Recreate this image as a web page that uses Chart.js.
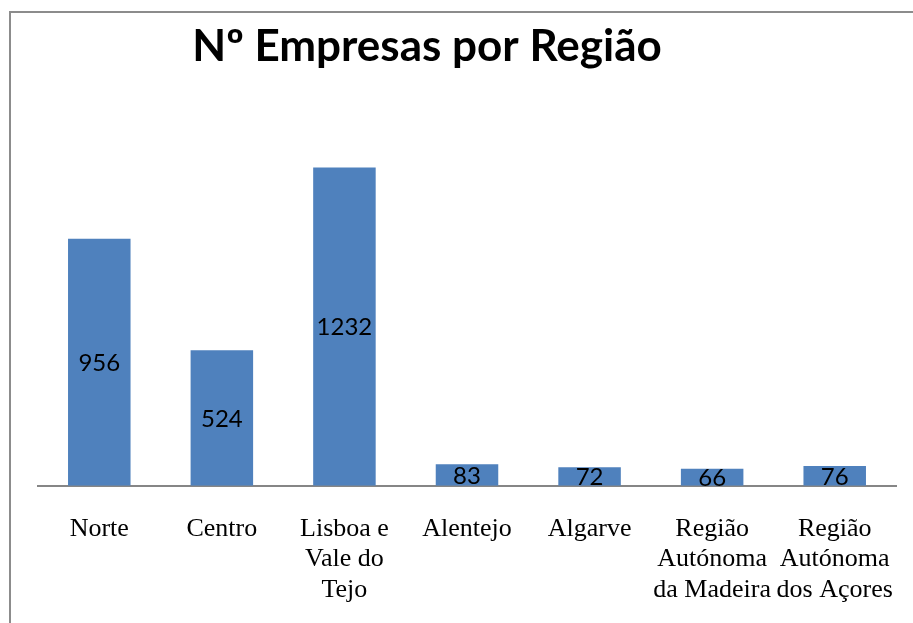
<!DOCTYPE html>
<html>
<head>
<meta charset="utf-8">
<script src="https://cdn.jsdelivr.net/npm/chart.js@4/dist/chart.umd.min.js"></script>
<style>
  html, body { margin: 0; padding: 0; background: #fff; }
  #wrap { position: relative; width: 913px; height: 623px; overflow: hidden; }
  #frame { position: absolute; left: 9px; top: 11px; width: 920px; height: 640px;
           border-left: 2px solid #8c8c8c; border-top: 2px solid #8c8c8c; }
  canvas { position: absolute; left: 0; top: 0; }
</style>
</head>
<body>
<div id="wrap">
  <div id="frame"></div>
  <canvas id="chart" width="913" height="643"></canvas>
</div>
<script>
var TITLE = 'Nº Empresas por Região';
var regioes = [
    'Norte',
    'Centro',
    ['Lisboa e', 'Vale do', 'Tejo'],
    'Alentejo',
    'Algarve',
    ['Região', 'Autónoma', 'da Madeira'],
    ['Região', 'Autónoma', 'dos Açores']
];
var empresas = [956, 524, 1232, 83, 72, 66, 76];

// titulo desenhado a mao, um pouco à esquerda do centro (como no original)
var titlePlugin = {
    id: 'titleText',
    afterDraw: function(chart) {
        var ctx = chart.ctx;
        ctx.save();
        ctx.font = 'bold 44px Lato';
        ctx.fillStyle = '#000';
        ctx.textAlign = 'center';
        ctx.textBaseline = 'alphabetic';
        ctx.fillText(TITLE, 427, 61);
        ctx.restore();
    }
};

// valores no meio de cada barra
var valueLabels = {
    id: 'valueLabels',
    afterDatasetsDraw: function(chart) {
        var ctx = chart.ctx;
        var meta = chart.getDatasetMeta(0);
        ctx.save();
        ctx.font = '24px Lato';
        ctx.fillStyle = '#000';
        ctx.textAlign = 'center';
        ctx.textBaseline = 'middle';
        meta.data.forEach(function(bar, i) {
            var y = (bar.y + bar.base) / 2;
            ctx.fillText(String(empresas[i]), bar.x, y + 1);
        });
        ctx.restore();
    }
};

var ctx = document.getElementById('chart').getContext('2d');
new Chart(ctx, {
    type: 'bar',
    data: {
        labels: regioes,
        datasets: [{
            data: empresas,
            backgroundColor: '#4f81bd',
            borderWidth: 0,
            categoryPercentage: 1,
            barPercentage: 0.51
        }]
    },
    options: {
        responsive: false,
        animation: false,
        layout: { padding: { left: 38, right: 17, top: 124, bottom: 10 } },
        plugins: {
            legend: { display: false },
            title: { display: false },
            tooltip: { enabled: false }
        },
        scales: {
            y: { display: false, min: 0, max: 1400 },
            x: {
                // os rotulos podem passar um pouco da area, como no Excel
                afterFit: function(scale) {
                    scale.paddingLeft = 0;
                    scale.paddingRight = 0;
                },
                grid: { display: false, drawTicks: false },
                border: { display: true, color: '#868686', width: 2 },
                ticks: {
                    color: '#000',
                    padding: 28,
                    maxRotation: 0,
                    autoSkip: false,
                    font: { family: '"Liberation Serif", "Times New Roman", serif', size: 26, lineHeight: 1.17 }
                }
            }
        }
    },
    plugins: [titlePlugin, valueLabels]
});
</script>
</body>
</html>
